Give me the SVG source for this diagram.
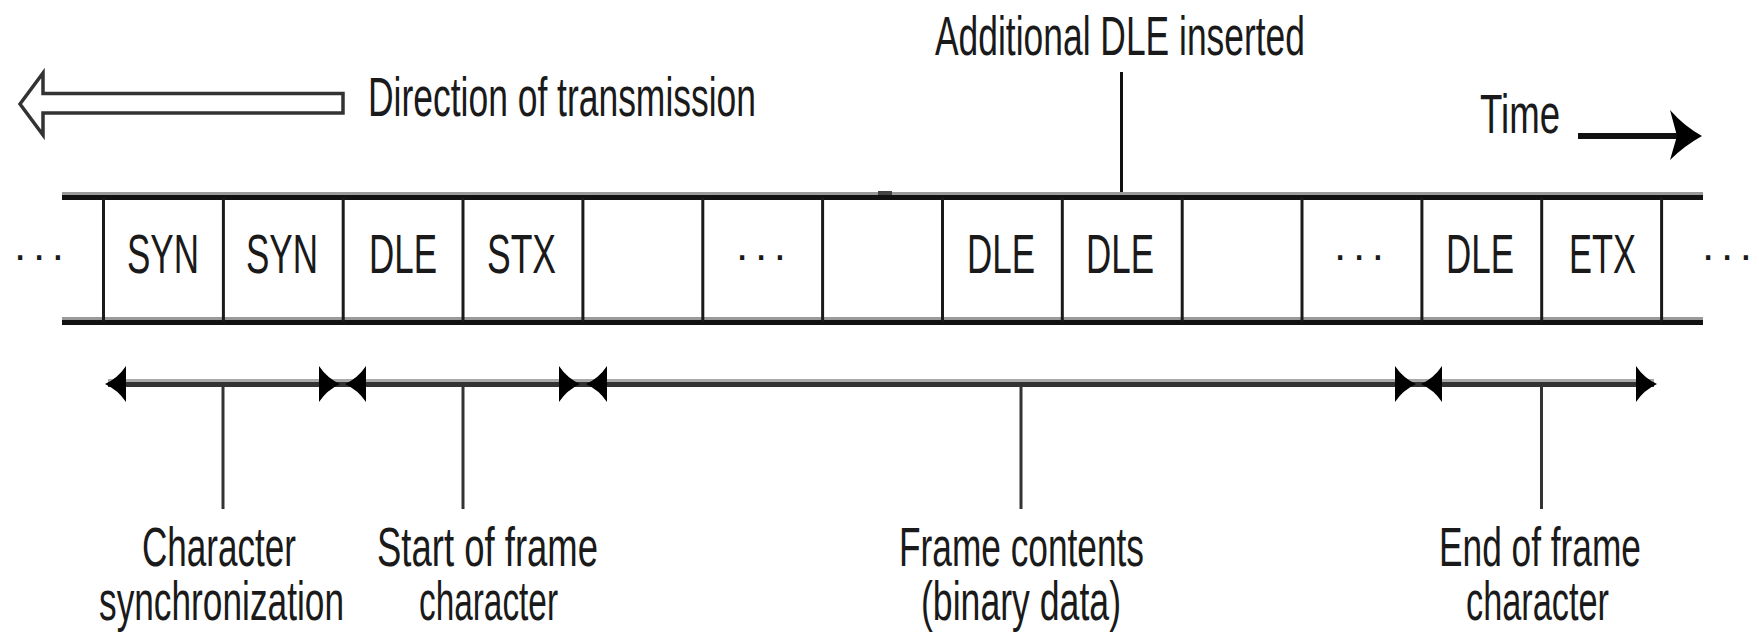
<svg xmlns="http://www.w3.org/2000/svg" width="1759" height="642" viewBox="0 0 1759 642">
<style>
text{font-family:"Liberation Sans",Arial,sans-serif;font-size:55px;fill:#1a1a1a}
.dots{font-size:44px}
.rail{fill:#111}
.railg{fill:#9a9a9a}
.div{stroke:#1a1a1a;stroke-width:3}
.tick{stroke:#333;stroke-width:3}
.head{fill:#000}
</style>
<rect width="1759" height="642" fill="#fff"/>

<g id="direction">
<polygon points="20,104 43,73 43,93.5 343,93.5 343,113 43,113 43,135" fill="#fff" stroke="#333" stroke-width="3.5" stroke-linejoin="miter"/>
<text x="368" y="116" textLength="388" lengthAdjust="spacingAndGlyphs">Direction of transmission</text>
</g>

<g id="time">
<text x="1480" y="133" textLength="80" lengthAdjust="spacingAndGlyphs">Time</text>
<line x1="1578" y1="136" x2="1685" y2="136" stroke="#111" stroke-width="6"/>
<path class="head" d="M1702,136 Q1684,126 1670,110 L1677,136 L1670,160 Q1684,146 1702,136 Z"/>
</g>

<g id="additional">
<text x="935" y="55" textLength="370" lengthAdjust="spacingAndGlyphs">Additional DLE inserted</text>
<line x1="1121.5" y1="72" x2="1121.5" y2="196" stroke="#111" stroke-width="3"/>
</g>

<g id="strip">
<rect class="railg" x="62" y="192" width="1641" height="3"/>
<rect class="rail" x="62" y="195" width="1641" height="5"/>
<rect class="railg" x="62" y="317" width="1641" height="3"/>
<rect class="rail" x="62" y="320" width="1641" height="5"/>
<rect x="878" y="191" width="14" height="4" fill="#444"/>
<g>
<line class="div" x1="103.5" y1="198" x2="103.5" y2="322"/>
<line class="div" x1="223.4" y1="198" x2="223.4" y2="322"/>
<line class="div" x1="343.2" y1="198" x2="343.2" y2="322"/>
<line class="div" x1="463" y1="198" x2="463" y2="322"/>
<line class="div" x1="582.9" y1="198" x2="582.9" y2="322"/>
<line class="div" x1="702.8" y1="198" x2="702.8" y2="322"/>
<line class="div" x1="822.6" y1="198" x2="822.6" y2="322"/>
<line class="div" x1="942.5" y1="198" x2="942.5" y2="322"/>
<line class="div" x1="1062.3" y1="198" x2="1062.3" y2="322"/>
<line class="div" x1="1182.2" y1="198" x2="1182.2" y2="322"/>
<line class="div" x1="1302" y1="198" x2="1302" y2="322"/>
<line class="div" x1="1421.9" y1="198" x2="1421.9" y2="322"/>
<line class="div" x1="1541.7" y1="198" x2="1541.7" y2="322"/>
<line class="div" x1="1661.6" y1="198" x2="1661.6" y2="322"/>
</g>
</g>

<g id="cells">
<text class="dots" x="14" y="260" textLength="50" lengthAdjust="spacing">...</text>
<text x="127" y="273" textLength="72" lengthAdjust="spacingAndGlyphs">SYN</text>
<text x="246" y="273" textLength="72" lengthAdjust="spacingAndGlyphs">SYN</text>
<text x="369" y="273" textLength="68" lengthAdjust="spacingAndGlyphs">DLE</text>
<text x="487" y="273" textLength="69" lengthAdjust="spacingAndGlyphs">STX</text>
<text class="dots" x="736" y="260" textLength="50" lengthAdjust="spacing">...</text>
<text x="967" y="273" textLength="68" lengthAdjust="spacingAndGlyphs">DLE</text>
<text x="1086" y="273" textLength="68" lengthAdjust="spacingAndGlyphs">DLE</text>
<text class="dots" x="1334" y="260" textLength="50" lengthAdjust="spacing">...</text>
<text x="1446" y="273" textLength="68" lengthAdjust="spacingAndGlyphs">DLE</text>
<text x="1569" y="273" textLength="67" lengthAdjust="spacingAndGlyphs">ETX</text>
<text class="dots" x="1702" y="260" textLength="50" lengthAdjust="spacing">...</text>
</g>

<g id="connectors">
<rect x="108" y="379" width="1546" height="3" fill="#aaa"/>
<rect x="108" y="382" width="1546" height="5" fill="#333"/>
<path class="head" d="M105,384 Q118,378 126,366 L126,402 Q118,390 105,384 Z"/>
<path class="head" d="M340,384 Q327,378 319,366 L319,402 Q327,390 340,384 Z"/>
<path class="head" d="M345,384 Q358,378 366,366 L366,402 Q358,390 345,384 Z"/>
<path class="head" d="M580,384 Q567,378 559,366 L559,402 Q567,390 580,384 Z"/>
<path class="head" d="M586,384 Q599,378 607,366 L607,402 Q599,390 586,384 Z"/>
<path class="head" d="M1416,384 Q1403,378 1395,366 L1395,402 Q1403,390 1416,384 Z"/>
<path class="head" d="M1421,384 Q1434,378 1442,366 L1442,402 Q1434,390 1421,384 Z"/>
<path class="head" d="M1657,384 Q1644,378 1636,366 L1636,402 Q1644,390 1657,384 Z"/>
<line class="tick" x1="223" y1="385" x2="223" y2="509"/>
<line class="tick" x1="463" y1="385" x2="463" y2="509"/>
<line class="tick" x1="1021" y1="385" x2="1021" y2="509"/>
<line class="tick" x1="1541.5" y1="385" x2="1541.5" y2="509"/>
</g>

<g id="label-sync">
<text x="142" y="566" textLength="154" lengthAdjust="spacingAndGlyphs">Character</text>
<text x="99" y="620" textLength="245" lengthAdjust="spacingAndGlyphs">synchronization</text>
</g>
<g id="label-start">
<text x="377" y="566" textLength="221" lengthAdjust="spacingAndGlyphs">Start of frame</text>
<text x="419" y="620" textLength="139" lengthAdjust="spacingAndGlyphs">character</text>
</g>
<g id="label-contents">
<text x="899" y="566" textLength="245" lengthAdjust="spacingAndGlyphs">Frame contents</text>
<text x="921" y="620" textLength="200" lengthAdjust="spacingAndGlyphs">(binary data)</text>
</g>
<g id="label-end">
<text x="1439" y="566" textLength="202" lengthAdjust="spacingAndGlyphs">End of frame</text>
<text x="1466" y="620" textLength="143" lengthAdjust="spacingAndGlyphs">character</text>
</g>
</svg>
